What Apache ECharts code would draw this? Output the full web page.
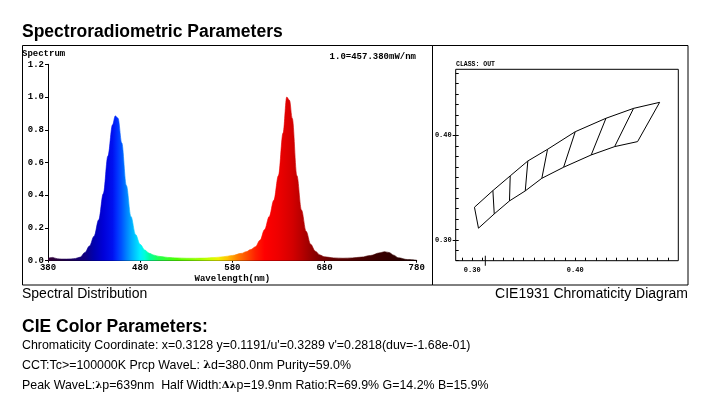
<!DOCTYPE html>
<html><head><meta charset="utf-8">
<script src="https://cdn.jsdelivr.net/npm/echarts@6/dist/echarts.min.js"></script>
<style>html,body{margin:0;padding:0;background:#fff}#c{width:709px;height:407px}</style>
</head><body><div id="c"></div>
<script>
// Spectrum data (relative intensity vs wavelength, nm)
const wavelengths = [380,385,390,395,400,405,410,415,420,425,430,435,440,445,450,453,456,460,465,470,475,480,485,490,495,500,510,520,530,540,550,560,570,580,590,595,600,605,610,615,620,625,630,635,639,642,645,650,655,660,665,670,675,680,690,700,710,720,730,740,745,750,755,760,770,780];
const intensity = [0.015,0.02,0.012,0.01,0.01,0.011,0.014,0.022,0.05,0.09,0.15,0.25,0.41,0.64,0.83,0.885,0.87,0.72,0.46,0.27,0.16,0.1,0.065,0.045,0.034,0.027,0.02,0.017,0.015,0.015,0.016,0.019,0.024,0.032,0.045,0.055,0.068,0.085,0.125,0.19,0.27,0.37,0.52,0.78,1.0,0.98,0.87,0.52,0.31,0.18,0.10,0.058,0.035,0.024,0.017,0.015,0.017,0.022,0.032,0.048,0.055,0.05,0.034,0.018,0.007,0.003];
const spectrumYTicks = [0, 0.2, 0.4, 0.6, 0.8, 1.0, 1.2];
const spectrumXTicks = [380, 480, 580, 680, 780];

// CIE chromaticity bin boundaries (x, y)
const upperX = [0.3022,0.3201,0.3369,0.3540,0.3731,0.4000,0.4298,0.4566,0.4819];
const upperY = [0.3313,0.3473,0.3614,0.3757,0.3869,0.4038,0.4167,0.4262,0.4320];
const lowerX = [0.3061,0.3214,0.3362,0.3515,0.3676,0.3887,0.4155,0.4382,0.4605];
const lowerY = [0.3112,0.3249,0.3374,0.3470,0.3591,0.3697,0.3815,0.3895,0.3943];
const cieXLabels = [0.30, 0.40];
const cieYLabels = [0.30, 0.40];
const cieXTicks = [0.29,0.30,0.31,0.32,0.33,0.34,0.35,0.36,0.37,0.38,0.39,0.40,0.41,0.42,0.43,0.44,0.45,0.46,0.47,0.48,0.49];
const cieYTicks = [0.28,0.29,0.30,0.31,0.32,0.33,0.34,0.35,0.36,0.37,0.38,0.39,0.40,0.41,0.42,0.43,0.44,0.45,0.46];
const measuredX = 0.3128;

const specData = wavelengths.map((w, i) => [w, intensity[i]]);

// wavelength -> display colour stops
const colorStopsNm = [
 [380,'#300030'],[400,'#200050'],[420,'#100080'],[430,'#0000b0'],[440,'#0000d8'],[450,'#0010f0'],
 [455,'#0030ff'],[460,'#0055ff'],[465,'#0080ff'],[470,'#00a8ff'],[475,'#00ccff'],[480,'#00eeff'],
 [485,'#00ffd8'],[490,'#00ffa0'],[500,'#20ff50'],[520,'#50ff00'],[540,'#90ff00'],[555,'#c8ff00'],
 [565,'#f0f000'],[575,'#ffc000'],[585,'#ff8000'],[595,'#ff5000'],[605,'#ff2000'],[615,'#ff0000'],
 [630,'#ee0000'],[645,'#d40000'],[655,'#b80000'],[665,'#980000'],[675,'#7c0000'],[690,'#600000'],
 [710,'#500000'],[740,'#380000'],[780,'#200000']];
const stops = colorStopsNm.map(s => ({offset: (s[0]-380)/400, color: s[1]}));
const grad = new echarts.graphic.LinearGradient(0,0,1,0, stops);

// bin lines
const binSeries = [];
const line = (pts) => binSeries.push({type:'line', xAxisIndex:1, yAxisIndex:1, data:pts, symbol:'none', silent:true,
  lineStyle:{color:'#000', width:1}, animation:false});
line(upperX.map((x,i)=>[x, upperY[i]]));
line(lowerX.map((x,i)=>[x, lowerY[i]]));
for (let i=0;i<upperX.length;i++) line([[upperX[i],upperY[i]],[lowerX[i],lowerY[i]]]);

const mono = {fontFamily:'Liberation Mono', fontWeight:'bold', fontSize:9, color:'#000'};
const monoS = {fontFamily:'Liberation Mono', fontWeight:'bold', fontSize:7, color:'#000'};
const chart = echarts.init(document.getElementById('c'), null, {renderer:'canvas'});
chart.setOption({
  animation:false,
  grid:[
    {left:48, right:292.3, top:64.3, bottom:146.3},
    {left:455.7, right:30.7, top:69.3, bottom:146.3, show:true, borderColor:'#000', borderWidth:1, backgroundColor:'transparent'}
  ],
  xAxis:[
    {gridIndex:0, type:'value', min:380, max:780, interval:100,
     axisLine:{lineStyle:{color:'#000', width:1}}, splitLine:{show:false},
     axisTick:{length:2, lineStyle:{color:'#000'}}, axisLabel:{...mono, margin:3},
     name:'Wavelength(nm)', nameLocation:'middle', nameGap:14, nameTextStyle:{...mono}},
    {gridIndex:1, type:'value', min:0.284, max:0.50,
     axisLine:{show:false}, splitLine:{show:false},
     axisTick:{inside:true, length:3, customValues:cieXTicks, lineStyle:{color:'#000'}},
     axisLabel:{...monoS, margin:6, customValues:cieXLabels, formatter:v=>v.toFixed(2)}}
  ],
  yAxis:[
    {gridIndex:0, type:'value', min:0, max:1.2, interval:0.2,
     axisLine:{show:true, lineStyle:{color:'#000', width:1}}, splitLine:{show:false},
     axisTick:{show:true, length:3, lineStyle:{color:'#000'}}, axisLabel:{...mono, margin:4, formatter:v=>v.toFixed(1)}},
    {gridIndex:1, type:'value', position:'left', min:0.28, max:0.4637,
     axisLine:{show:false}, splitLine:{show:false},
     axisTick:{inside:true, length:3, customValues:cieYTicks, lineStyle:{color:'#000'}},
     axisLabel:{...monoS, margin:4, customValues:cieYLabels, formatter:v=>v.toFixed(2)}},
    {gridIndex:1, type:'value', position:'left', offset:0, min:0.28, max:0.4637,
     axisLine:{show:false}, splitLine:{show:false},
     axisTick:{inside:false, length:3, customValues:cieYLabels, lineStyle:{color:'#000'}},
     axisLabel:{show:false}}
  ],
  series:[
    {type:'line', xAxisIndex:0, yAxisIndex:0, data:specData, symbol:'none', smooth:0.35, smoothMonotone:'x',
     lineStyle:{width:0.6, color:grad}, areaStyle:{color:grad, opacity:1}, silent:true},
    ...binSeries,
    {type:'scatter', xAxisIndex:1, yAxisIndex:1, data:[[measuredX, 0.28]], symbol:'rect', symbolSize:[1.2, 10],
     itemStyle:{color:'#000'}, clip:false, silent:true}
  ],
  graphic:[
    {type:'rect', shape:{x:22.5, y:45.5, width:410, height:239.5}, style:{fill:'none', stroke:'#000', lineWidth:1}, silent:true},
    {type:'rect', shape:{x:432.5, y:45.5, width:255.5, height:239.5}, style:{fill:'none', stroke:'#000', lineWidth:1}, silent:true},
    {type:'text', left:22, top:23, style:{text:'Spectroradiometric Parameters', font:'bold 17.5px "Liberation Sans"', fill:'#000'}},
    {type:'text', left:22, top:49, style:{text:'Spectrum', font:'bold 9px "Liberation Mono"', fill:'#000'}},
    {type:'text', right:293, top:52, style:{text:'1.0=457.380mW/nm', font:'bold 9px "Liberation Mono"', fill:'#000'}},
    {type:'text', left:456, top:61, style:{text:'CLASS: OUT', font:'bold 6.5px "Liberation Mono"', fill:'#000'}},
    {type:'text', left:22, top:287, style:{text:'Spectral Distribution', font:'14px "Liberation Sans"', fill:'#000'}},
    {type:'text', right:21, top:287, style:{text:'CIE1931 Chromaticity Diagram', font:'14px "Liberation Sans"', fill:'#000'}},
    {type:'text', left:22, top:318, style:{text:'CIE Color Parameters:', font:'bold 17.5px "Liberation Sans"', fill:'#000'}},
    {type:'text', left:22, top:339.5, style:{text:"Chromaticity Coordinate: x=0.3128 y=0.1191/u'=0.3289 v'=0.2818(duv=-1.68e-01)", font:'12.4px "Liberation Sans"', fill:'#000'}},
    {type:'text', left:22, top:359.5, style:{text:'{a|CCT:Tc>=100000K Prcp WaveL: }{l|λ}{a|d=380.0nm Purity=59.0%}',
      rich:{a:{font:'12.4px "Liberation Sans"', fill:'#000'}, l:{font:'bold 11px "DejaVu Serif"', fill:'#000'}}}},
    {type:'text', left:22, top:379.5, style:{text:'{a|Peak WaveL:}{l|λ}{a|p=639nm  Half Width:}{l|Δλ}{a|p=19.9nm Ratio:R=69.9% G=14.2% B=15.9%}',
      rich:{a:{font:'12.4px "Liberation Sans"', fill:'#000'}, l:{font:'bold 10px "DejaVu Serif"', fill:'#000'}}}}
  ]
});
</script></body></html>
